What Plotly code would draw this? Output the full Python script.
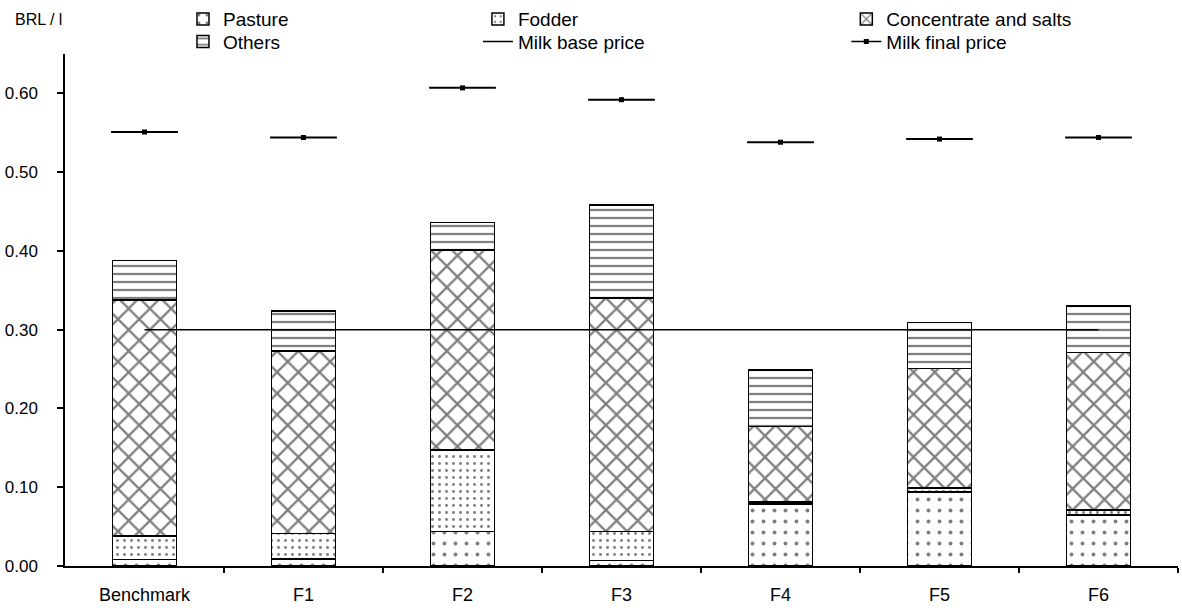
import plotly.graph_objects as go

categories = ["Benchmark", "F1", "F2", "F3", "F4", "F5", "F6"]
pasture = [0.008, 0.009, 0.044, 0.007, 0.079, 0.094, 0.065]
fodder = [0.030, 0.032, 0.103, 0.037, 0.002, 0.005, 0.006]
concentrate = [0.300, 0.232, 0.254, 0.296, 0.096, 0.152, 0.200]
others = [0.050, 0.051, 0.035, 0.118, 0.072, 0.058, 0.059]
milk_base_price = [0.30, 0.30, 0.30, 0.30, 0.30, 0.30, 0.30]
milk_final_price = [0.551, 0.544, 0.607, 0.592, 0.538, 0.542, 0.544]
y_ticks = [0.0, 0.1, 0.2, 0.3, 0.4, 0.5, 0.6]

FONT = "Liberation Sans"
idx = list(range(len(categories)))
BAR_W = 0.40
DASH_HALF = 0.21

fig = go.Figure()

def bar(name, vals, shape, size, solidity, legend):
    fig.add_trace(go.Bar(
        name=name, x=idx, y=vals, width=BAR_W, legend=legend,
        marker=dict(color="white",
                    line=dict(color="black", width=1.5),
                    pattern=dict(shape=shape, size=size, solidity=solidity,
                                 fgcolor="black", bgcolor="white", fillmode="overlay")),
        hoverinfo="skip",
    ))

bar("Pasture", pasture, ".", 11, 0.1, "legend")
bar("Fodder", fodder, ".", 7, 0.14, "legend2")
bar("Concentrate and salts", concentrate, "x", 15, 0.28, "legend3")
bar("Others", others, "-", 8, 0.28, "legend4")

fig.add_trace(go.Scatter(
    name="Milk base price", x=idx, y=milk_base_price, mode="lines",
    line=dict(color="black", width=1.5), legend="legend5", hoverinfo="skip"))

dx, dy = [], []
for i, v in zip(idx, milk_final_price):
    dx += [i - DASH_HALF, i + DASH_HALF, None]
    dy += [v, v, None]
fig.add_trace(go.Scatter(
    x=dx, y=dy, mode="lines", line=dict(color="black", width=2),
    showlegend=False, hoverinfo="skip"))

mx, my = [], []
for i, v in zip(idx, milk_final_price):
    mx += [i, None]
    my += [v, None]
fig.add_trace(go.Scatter(
    name="Milk final price", x=mx, y=my, mode="lines+markers",
    line=dict(color="black", width=1.5),
    marker=dict(symbol="square", size=5, color="black"),
    legend="legend6", hoverinfo="skip"))

def leg(x, y):
    return dict(orientation="v", bgcolor="rgba(0,0,0,0)", borderwidth=0,
                font=dict(family=FONT, size=19, color="black"),
                yanchor="middle", y=y, xanchor="left", x=x,
                traceorder="normal", itemwidth=30)

ROW1, ROW2 = 1.068, 1.024
COL1, COL2, COL3 = 0.106, 0.371, 0.702

fig.update_layout(
    barmode="stack",
    width=1182, height=610,
    margin=dict(l=65, r=4, t=54, b=44, autoexpand=False),
    paper_bgcolor="white", plot_bgcolor="white",
    font=dict(family=FONT, size=18, color="black"),
    legend=leg(COL1, ROW1),
    legend2=leg(COL2, ROW1),
    legend3=leg(COL3, ROW1),
    legend4=leg(COL1, ROW2),
    legend5=leg(COL2, ROW2),
    legend6=leg(COL3, ROW2),
    xaxis=dict(range=[-0.5, 6.5], tickmode="array", tickvals=idx, ticktext=categories,
               ticks="", showgrid=False, zeroline=False,
               showline=True, linecolor="black", linewidth=1.5,
               ticklabelstandoff=12, tickfont=dict(size=18),
               minor=dict(tickmode="array", tickvals=[0.5, 1.5, 2.5, 3.5, 4.5, 5.5, 6.5],
                          ticks="outside", ticklen=5, tickcolor="black", tickwidth=1.5,
                          showgrid=False)),
    yaxis=dict(range=[0, 0.65], tickmode="array", tickvals=y_ticks,
               tickformat=".2f", ticks="outside", ticklen=6, tickwidth=1.5,
               tickcolor="black", showgrid=False, zeroline=False,
               showline=True, linecolor="black", linewidth=1.5,
               ticklabelstandoff=16, tickfont=dict(size=17)),
    annotations=[dict(text="BRL / l", xref="paper", yref="paper",
                      x=-0.047, y=1.068, xanchor="left", yanchor="middle",
                      showarrow=False, font=dict(family=FONT, size=16, color="black"))],
)

fig.write_html("out.html", config={"displayModeBar": False},
               post_script="document.body.style.margin='0';document.body.style.overflow='hidden';")
